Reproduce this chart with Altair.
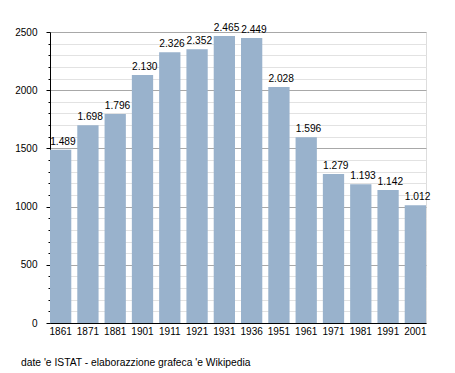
import altair as alt
import pandas as pd

years = ["1861", "1871", "1881", "1901", "1911", "1921", "1931", "1936",
         "1951", "1961", "1971", "1981", "1991", "2001"]
population = [1489, 1698, 1796, 2130, 2326, 2352, 2465, 2449,
              2028, 1596, 1279, 1193, 1142, 1012]
labels = [f"{v:,}".replace(",", ".") for v in population]
y_ticks = list(range(0, 2600, 100))

df = pd.DataFrame({"year": years, "pop": population, "label": labels})

FONT = "Liberation Sans"

x = alt.X("year:N", sort=years, title=None,
          scale=alt.Scale(paddingInner=0.22, paddingOuter=0.0),
          axis=alt.Axis(labelAngle=0, ticks=False, domainColor="#000000",
                        labelFont=FONT, labelFontSize=10, labelColor="#000000",
                        labelPadding=3, grid=False))
y = alt.Y("pop:Q", title=None,
          scale=alt.Scale(domain=[0, 2500], nice=False),
          axis=alt.Axis(values=y_ticks,
                        labelExpr="datum.value % 500 === 0 ? datum.value : ''",
                        labelOverlap=False,
                        labelFont=FONT, labelFontSize=10, labelColor="#000000",
                        labelPadding=9,
                        domainColor="#000000",
                        tickColor="#000000",
                        tickSize={"condition": {"test": "datum.value % 500 === 0", "value": 4}, "value": 2},
                        grid=True,
                        gridColor={"condition": {"test": "datum.value % 500 === 0", "value": "#a8a8a8"}, "value": "#e2e2e2"},
                        gridOpacity=1))

bars = alt.Chart(df).mark_bar(color="#99b2cc").encode(x=x, y=y)
text = alt.Chart(df).mark_text(baseline="alphabetic", align="left", dx=-10.5, dy=-5,
                               font=FONT, fontSize=10.2,
                               color="#000000").encode(x=x, y=y, text="label:N")

chart = (bars + text).properties(
    width=376, height=291,
    autosize=alt.AutoSizeParams(type="none"),
    padding={"left": 42, "top": 24, "right": 21, "bottom": 49},
    title=alt.TitleParams("date 'e ISTAT - elaborazzione grafeca 'e Wikipedia",
                          orient="bottom", anchor="start", frame="group",
                          dx=-29, offset=22,
                          font=FONT, fontSize=10.3, fontWeight="normal",
                          color="#000000"),
).configure_view(stroke=None).configure(background="#ffffff")

chart.save("out.html", embed_options={"renderer": "svg", "actions": False})
